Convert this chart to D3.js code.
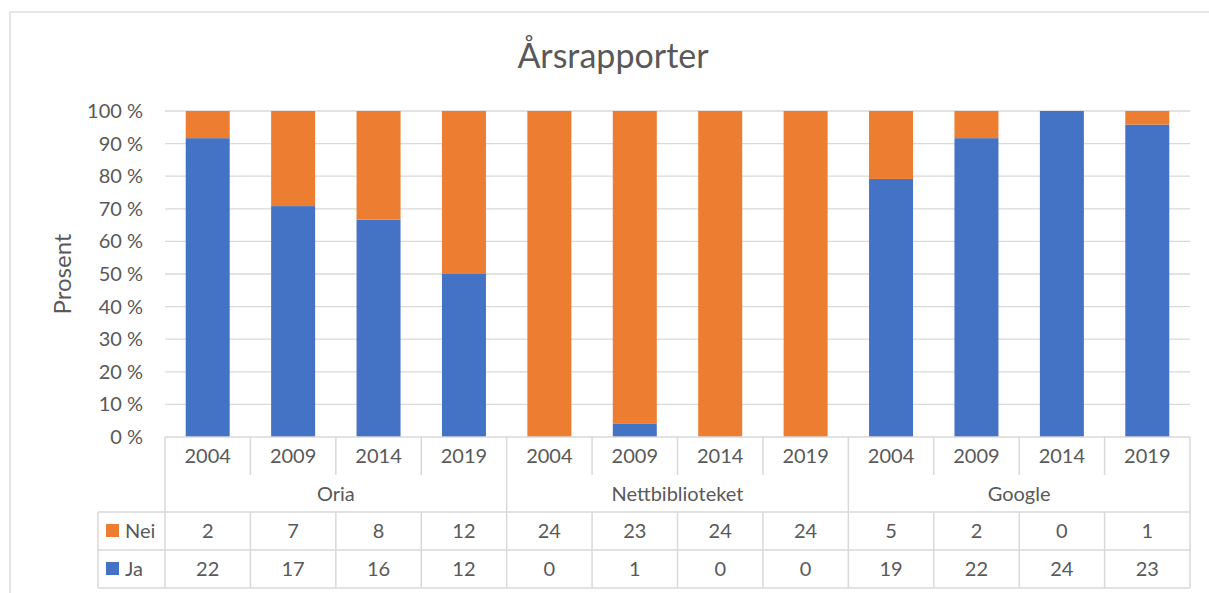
<!DOCTYPE html>
<html>
<head>
<meta charset="utf-8">
<script src="https://cdn.jsdelivr.net/npm/d3@7"></script>
<style>
  body { margin: 0; background: #fff; }
  text { font-family: Lato, "Open Sans", sans-serif; fill: #595959; }
</style>
</head>
<body>
<svg width="1209" height="593"></svg>
<script>
const svg = d3.select("svg"),
    width = +svg.attr("width"),
    height = +svg.attr("height")

// data
const groups = ["Oria", "Nettbiblioteket", "Google"],
    years = ["2004", "2009", "2014", "2019"],
    nei = [2, 7, 8, 12, 24, 23, 24, 24, 5, 2, 0, 1],
    ja = [22, 17, 16, 12, 0, 1, 0, 0, 19, 22, 24, 23],
    yTicks = [0, 0.1, 0.2, 0.3, 0.4, 0.5, 0.6, 0.7, 0.8, 0.9, 1]

const blue = "#4472C4", orange = "#ED7D31", grid = "#d9d9d9"

const cats = []
groups.forEach(function (g, gi) {
    years.forEach(function (yr, yi) {
        const i = gi * years.length + yi
        cats.push({ key: g + "-" + yr, group: g, year: yr, ja: ja[i], nei: nei[i] })
    })
})

const pLeft = 165, pRight = 1190, pTop = 111, pBottom = 437
const x = d3.scaleBand().domain(cats.map(d => d.key)).range([pLeft, pRight])
    .paddingInner(0.485).paddingOuter(0.2425)
const y = d3.scaleLinear().domain([0, 1]).range([pBottom, pTop])
const step = x.step()
const fs = "20px"

// chart border
svg.append("rect").attr("x", 10).attr("y", 12).attr("width", width).attr("height", height)
    .attr("fill", "none").attr("stroke", grid).attr("stroke-width", 1.3)

svg.append("text").attr("x", 613).attr("y", 68).attr("text-anchor", "middle")
    .style("font-size", "34px").text("Årsrapporter")

// grid + y labels
svg.selectAll(".grid").data(yTicks.slice(1)).enter().append("line")
    .attr("x1", pLeft).attr("x2", pRight)
    .attr("y1", d => y(d)).attr("y2", d => y(d))
    .attr("stroke", grid).attr("stroke-width", 1.3)

svg.selectAll(".ylab").data(yTicks).enter().append("text")
    .attr("x", 143).attr("y", d => y(d)).attr("dy", "0.35em")
    .attr("text-anchor", "end").style("font-size", fs)
    .text(d => Math.round(d * 100) + " %")

svg.append("text").attr("transform", "translate(71," + 274 + ") rotate(-90)")
    .attr("text-anchor", "middle").style("font-size", "24px").text("Prosent")

// stacked 100% bars
const stack = d3.stack().keys(["ja", "nei"]).offset(d3.stackOffsetExpand)
const series = stack(cats)
svg.selectAll(".series").data(series).enter().append("g")
    .attr("fill", d => d.key == "ja" ? blue : orange)
    .selectAll("rect").data(d => d).enter().append("rect")
    .attr("x", d => x(d.data.key))
    .attr("width", x.bandwidth())
    .attr("y", d => y(d[1]))
    .attr("height", d => y(d[0]) - y(d[1]))

// data table below
const rowYear = [437, 475], rowGroup = [475, 512], rowNei = [512, 550], rowJa = [550, 588]
const legLeft = 98
const t = svg.append("g").attr("stroke", grid).attr("stroke-width", 1.5)

t.append("line").attr("x1", pLeft).attr("x2", pRight).attr("y1", pBottom).attr("y2", pBottom)
;[rowNei[0], rowJa[0], rowJa[1]].forEach(function (yy) {
    t.append("line").attr("x1", legLeft).attr("x2", pRight).attr("y1", yy).attr("y2", yy)
})
t.append("line").attr("x1", legLeft).attr("x2", legLeft).attr("y1", rowNei[0]).attr("y2", rowJa[1])

// category boundaries
d3.range(cats.length + 1).forEach(function (i) {
    const xx = pLeft + i * step
    const isGroupEdge = i % years.length == 0
    t.append("line").attr("x1", xx).attr("x2", xx).attr("y1", rowYear[0]).attr("y2", rowYear[1])
    if (isGroupEdge) {
        t.append("line").attr("x1", xx).attr("x2", xx).attr("y1", rowGroup[0]).attr("y2", rowGroup[1])
    }
    t.append("line").attr("x1", xx).attr("x2", xx).attr("y1", rowNei[0]).attr("y2", rowJa[1])
})

const mid = r => (r[0] + r[1]) / 2
svg.selectAll(".yr").data(cats).enter().append("text")
    .attr("x", d => x(d.key) + x.bandwidth() / 2).attr("y", mid(rowYear)).attr("dy", "0.35em")
    .attr("text-anchor", "middle").style("font-size", fs).text(d => d.year)

svg.selectAll(".grp").data(groups).enter().append("text")
    .attr("x", (d, i) => pLeft + (i + 0.5) * step * years.length).attr("y", mid(rowGroup)).attr("dy", "0.35em")
    .attr("text-anchor", "middle").style("font-size", fs).text(d => d)

svg.selectAll(".nei").data(cats).enter().append("text")
    .attr("x", d => x(d.key) + x.bandwidth() / 2).attr("y", mid(rowNei)).attr("dy", "0.35em")
    .attr("text-anchor", "middle").style("font-size", fs).text(d => d.nei)

svg.selectAll(".ja").data(cats).enter().append("text")
    .attr("x", d => x(d.key) + x.bandwidth() / 2).attr("y", mid(rowJa)).attr("dy", "0.35em")
    .attr("text-anchor", "middle").style("font-size", fs).text(d => d.ja)

// legend keys in table
const legend = [{ name: "Nei", color: orange, row: rowNei }, { name: "Ja", color: blue, row: rowJa }]
legend.forEach(function (l) {
    svg.append("rect").attr("x", 106).attr("y", mid(l.row) - 7).attr("width", 13).attr("height", 13)
        .attr("fill", l.color)
    svg.append("text").attr("x", 125).attr("y", mid(l.row)).attr("dy", "0.35em")
        .style("font-size", fs).text(l.name)
})
</script>
</body>
</html>
